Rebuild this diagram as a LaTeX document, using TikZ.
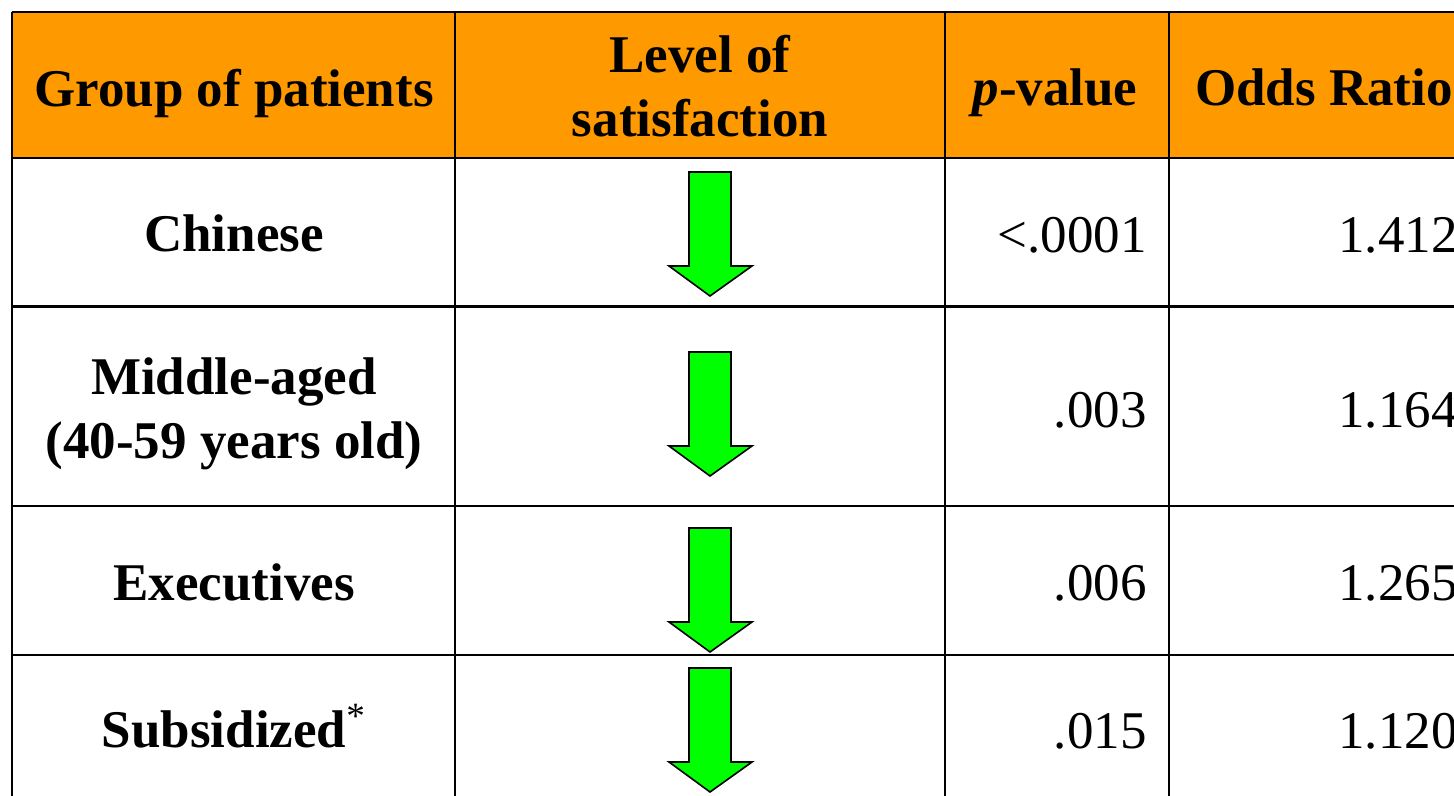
\documentclass[tikz,border=0pt]{standalone}
\usepackage{fontspec}
\setmainfont{Liberation Serif}
\usepackage{tikz}
\definecolor{headorange}{RGB}{255,153,0}
\definecolor{arrowgreen}{RGB}{0,255,0}

\begin{document}
\begin{tikzpicture}[x=0.5pt,y=-0.5pt,
  gridline/.style={line width=1.3pt,black},
  txt/.style={inner sep=0pt,font=\fontsize{26.5}{32}\selectfont},
  headtxt/.style={txt,anchor=base,align=center,font=\fontsize{26.5}{32}\selectfont\bfseries},
  grouptxt/.style={txt,anchor=base,align=center,font=\fontsize{26.5}{32}\selectfont\bfseries},
  numtxt/.style={txt,anchor=base east},
  downarrow/.style={draw=black,fill=arrowgreen,line width=0.8pt,line join=miter}]
\useasboundingbox (0,0) rectangle (1454,796);
\clip (0,0) rectangle (1454,796);
% Header
\fill[headorange] (12,12) rectangle (1479,158); % header background
\node[headtxt] (hGroup) at (234,107) {Group of patients};
\node[headtxt] (hLevel) at (700,137) {Level of\\satisfaction};
\node[headtxt] (hPval) at (1055,106) {\textit{p}-value};
\node[headtxt] (hOdds) at (1324,106) {Odds Ratio};
% Grid
\draw[gridline] (12,12) -- (1479,12); % top line
\draw[gridline] (12,158) -- (1479,158); % header bottom line
\draw[gridline] (12,306.5) -- (1479,306.5); % row 1 bottom line
\draw[gridline] (12,506) -- (1479,506); % row 2 bottom line
\draw[gridline] (12,655) -- (1479,655); % row 3 bottom line
\draw[gridline] (12,12) -- (12,850); % left line
\draw[gridline] (455,12) -- (455,850); % group | level
\draw[gridline] (945,12) -- (945,850); % level | p-value
\draw[gridline] (1169,12) -- (1169,850); % p-value | odds ratio
\draw[gridline] (1479,12) -- (1479,850); % right line
% Groups
\node[grouptxt] (gChinese) at (234,252) {Chinese};
\node[grouptxt] (gMiddle) at (234,458) {Middle-aged\\(40-59 years old)};
\node[grouptxt] (gExec) at (234,600) {Executives};
\node[grouptxt] (gSubs) at (234,747) {Subsidized\textsuperscript{\mdseries *}};
% Arrows
\filldraw[downarrow] (689,172) -- (731,172) -- (731,266) -- (752,266) -- (710,296) -- (669,266) -- (689,266) -- cycle;
\filldraw[downarrow] (689,352) -- (731,352) -- (731,446) -- (752,446) -- (710,476) -- (669,446) -- (689,446) -- cycle;
\filldraw[downarrow] (689,528) -- (731,528) -- (731,622) -- (752,622) -- (710,652) -- (669,622) -- (689,622) -- cycle;
\filldraw[downarrow] (689,668) -- (731,668) -- (731,762) -- (752,762) -- (710,792) -- (669,762) -- (689,762) -- cycle;
% p-values
\node[numtxt] (pChinese) at (1147,253) {<.0001};
\node[numtxt] (pMiddle) at (1147,427) {.003};
\node[numtxt] (pExec) at (1147,600) {.006};
\node[numtxt] (pSubs) at (1147,748) {.015};
% Odds ratios
\node[numtxt] (oChinese) at (1458,253) {1.412};
\node[numtxt] (oMiddle) at (1458,427) {1.164};
\node[numtxt] (oExec) at (1458,600) {1.265};
\node[numtxt] (oSubs) at (1458,748) {1.120};
\end{tikzpicture}
\end{document}
